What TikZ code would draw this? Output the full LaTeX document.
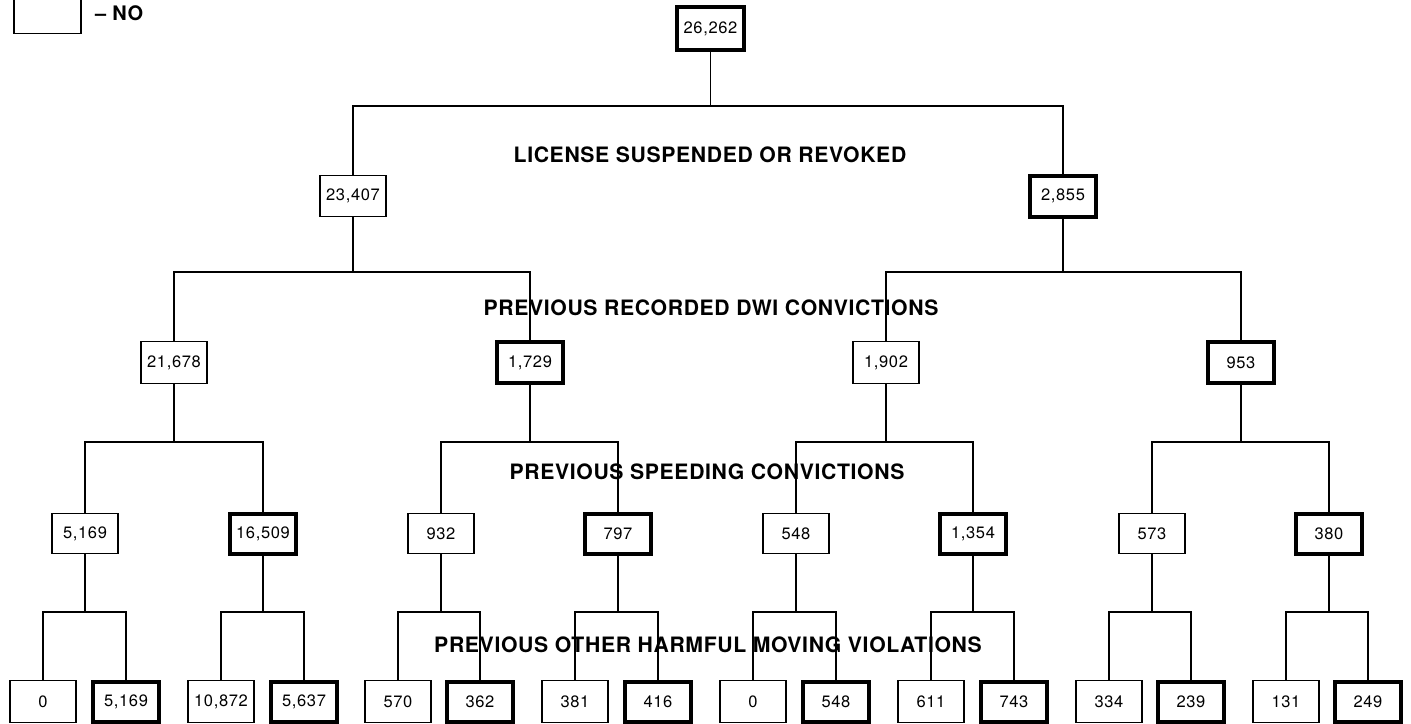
\documentclass[tikz,border=0pt]{standalone}
\usepackage{fontspec}
\newfontfamily\helv{TeX Gyre Heros}
\newfontfamily\helvnum[LetterSpace=4]{TeX Gyre Heros}
\newfontfamily\helvhead[LetterSpace=3]{TeX Gyre Heros}
\begin{document}
\begin{tikzpicture}[x=1pt,y=-1pt,
  conn/.style={line width=1.5pt, line join=miter},
  nobox/.style={draw, line width=1.5pt, minimum width=66pt, minimum height=42pt,
    inner sep=0pt, font=\helvnum\fontsize{16.5}{19}\selectfont},
  yesbox/.style={nobox, line width=4pt, minimum width=66pt, minimum height=40pt},
  heading/.style={font=\helvhead\fontsize{21.2}{26}\selectfont\bfseries, inner sep=0pt}]
\useasboundingbox (0,0) rectangle (1411,723);

% legend (upper part lies off the page)
\node[draw, line width=1.5pt, minimum width=67pt, minimum height=54pt, inner sep=0pt,
      anchor=south west] (legno) at (13,34) {};
\node[font=\helvhead\fontsize{20}{24}\selectfont\bfseries, anchor=west, inner sep=0pt]
      (legnotext) at (95,13) {– NO};

% bar heights of the branching lines
\coordinate (bar0) at (0,106);
\coordinate (bar1) at (0,272);
\coordinate (bar2) at (0,442);
\coordinate (bar3) at (0,612);

% level 0
\node[yesbox, minimum width=67pt, minimum height=43pt] (n0) at (710.5,28.5) {26,262};
% level 1
\node[nobox, minimum height=41pt] (n1a) at (353,196) {23,407};
\node[yesbox, minimum height=41pt] (n1b) at (1063,196) {2,855};
% level 2
\node[nobox] (n2a) at (174,362.5) {21,678};
\node[yesbox, minimum height=41pt] (n2b) at (530,362.5) {1,729};
\node[nobox] (n2c) at (886,362.5) {1,902};
\node[yesbox, minimum height=41pt] (n2d) at (1241,362.5) {953};
% level 3
\node[nobox, minimum height=40pt] (n3a) at (85,533.5) {5,169};
\node[yesbox] (n3b) at (263,533.5) {16,509};
\node[nobox, minimum height=40pt] (n3c) at (441,533.5) {932};
\node[yesbox] (n3d) at (618,533.5) {797};
\node[nobox, minimum height=40pt] (n3e) at (796,533.5) {548};
\node[yesbox] (n3f) at (973,533.5) {1,354};
\node[nobox, minimum height=40pt] (n3g) at (1152,533.5) {573};
\node[yesbox] (n3h) at (1329,533.5) {380};
% level 4
\node[nobox] (n4a) at (43,701.5) {0};
\node[yesbox] (n4b) at (126,701.5) {5,169};
\node[nobox] (n4c) at (221,701.5) {10,872};
\node[yesbox] (n4d) at (304,701.5) {5,637};
\node[nobox] (n4e) at (398,701.5) {570};
\node[yesbox] (n4f) at (480,701.5) {362};
\node[nobox] (n4g) at (575,701.5) {381};
\node[yesbox] (n4h) at (658,701.5) {416};
\node[nobox] (n4i) at (753,701.5) {0};
\node[yesbox] (n4j) at (836,701.5) {548};
\node[nobox] (n4k) at (931,701.5) {611};
\node[yesbox] (n4l) at (1014,701.5) {743};
\node[nobox] (n4m) at (1109,701.5) {334};
\node[yesbox] (n4n) at (1191,701.5) {239};
\node[nobox] (n4o) at (1286,701.5) {131};
\node[yesbox] (n4p) at (1368,701.5) {249};

% split lines: parent stem, then the bar down to both children
\newcommand{\branchpair}[4]{%
  \draw[conn] (#1.south) -- (#1.south |- #4);
  \draw[conn] (#2.north) -- (#2.north |- #4) -- (#3.north |- #4) -- (#3.north);}

\branchpair{n0}{n1a}{n1b}{bar0}
\branchpair{n1a}{n2a}{n2b}{bar1}
\branchpair{n1b}{n2c}{n2d}{bar1}
\branchpair{n2a}{n3a}{n3b}{bar2}
\branchpair{n2b}{n3c}{n3d}{bar2}
\branchpair{n2c}{n3e}{n3f}{bar2}
\branchpair{n2d}{n3g}{n3h}{bar2}
\branchpair{n3a}{n4a}{n4b}{bar3}
\branchpair{n3b}{n4c}{n4d}{bar3}
\branchpair{n3c}{n4e}{n4f}{bar3}
\branchpair{n3d}{n4g}{n4h}{bar3}
\branchpair{n3e}{n4i}{n4j}{bar3}
\branchpair{n3f}{n4k}{n4l}{bar3}
\branchpair{n3g}{n4m}{n4n}{bar3}
\branchpair{n3h}{n4o}{n4p}{bar3}

% level headings
\node[heading] (h1) at (710,155) {LICENSE SUSPENDED OR REVOKED};
\node[heading] (h2) at (711,308) {PREVIOUS RECORDED DWI CONVICTIONS};
\node[heading] (h3) at (707,472) {PREVIOUS SPEEDING CONVICTIONS};
\node[heading] (h4) at (708,645) {PREVIOUS OTHER HARMFUL MOVING VIOLATIONS};
\end{tikzpicture}
\end{document}
